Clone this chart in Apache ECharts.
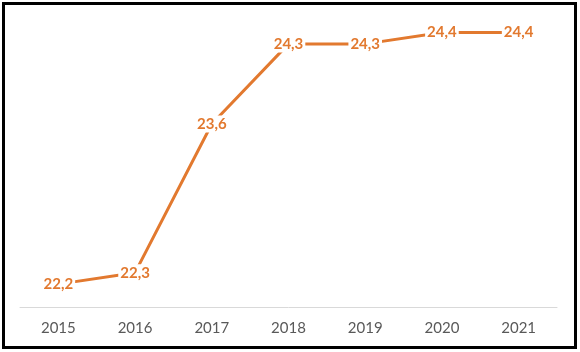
<!DOCTYPE html>
<html><head><meta charset="utf-8">
<script src="https://cdn.jsdelivr.net/npm/echarts@6/dist/echarts.min.js"></script>
<style>html,body{margin:0;padding:0;background:#fff}#c{width:580px;height:352px}</style>
</head><body><div id="c"></div>
<script>
const categories = ['2015','2016','2017','2018','2019','2020','2021'];
const values = [22.2, 22.3, 23.6, 24.3, 24.3, 24.4, 24.4];
const chart = echarts.init(document.getElementById('c'));
chart.setOption({
  animation: false,
  backgroundColor: '#fff',
  graphic: [{
    type: 'rect', z: 100,
    shape: { x: 3.5, y: 3.5, width: 572, height: 344 },
    style: { fill: 'none', stroke: '#000', lineWidth: 3 }
  }],
  grid: { left: 20, right: 23, top: 21, bottom: 45 },
  xAxis: {
    type: 'category', data: categories, boundaryGap: true,
    axisLine: { lineStyle: { color: '#D9D9D9', width: 1 } },
    axisTick: { show: false },
    axisLabel: { color: '#595959', fontSize: 15, fontFamily: 'Lato', margin: 14 }
  },
  yAxis: { type: 'value', min: 22, max: 24.5, show: false, splitLine: { show: false } },
  series: [{
    type: 'line', data: values, symbol: 'circle', symbolSize: 1, showSymbol: true,
    itemStyle: { color: 'rgba(0,0,0,0)' },
    lineStyle: { color: '#E2792F', width: 3 },
    label: {
      show: true, position: 'inside',
      color: '#E2792F', fontWeight: 'bold', fontSize: 15, fontFamily: 'Lato',
      backgroundColor: '#fff', padding: [1, 2],
      formatter: p => String(p.value).replace('.', ',')
    }
  }]
});
</script></body></html>
